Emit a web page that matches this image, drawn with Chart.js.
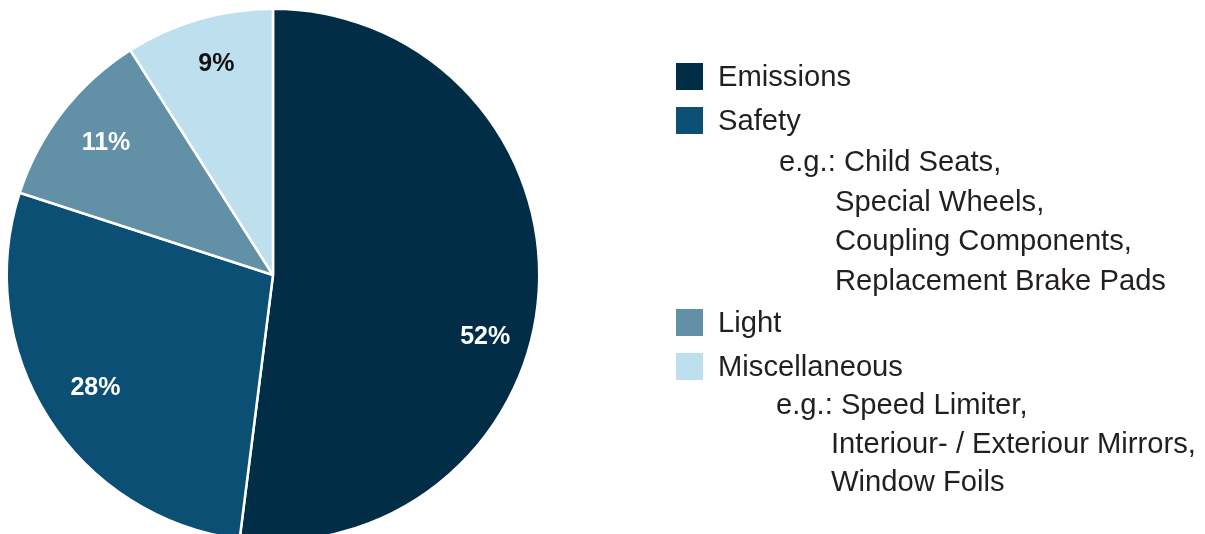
<!DOCTYPE html>
<html lang="en">
<head>
    <meta charset="UTF-8">
    <title>Share by Category</title>
    <script src="https://cdn.jsdelivr.net/npm/chart.js"></script>
    <style>
        body {
            margin: 0;
            background: #fff;
            font-family: 'Liberation Sans', Arial, Helvetica, sans-serif;
        }
        .wrap {
            position: relative;
            width: 1205px;
            height: 534px;
            overflow: hidden;
        }
        #pieChart {
            position: absolute;
            left: 0;
            top: 0;
        }
        .legend {
            position: absolute;
            left: 676px;
            top: 54px;
            color: #231f20;
            font-size: 29.2px;
        }
        .legend .item {
            display: flex;
            align-items: center;
            height: 44px;
        }
        .legend .swatch {
            width: 27px;
            height: 27px;
            margin-right: 15px;
        }
        .legend .sub {
            white-space: nowrap;
        }
    </style>
</head>
<body>
    <div class="wrap">
        <canvas id="pieChart" width="1205" height="545"></canvas>
        <div class="legend" id="legend"></div>
    </div>

    <script>
        const categories = ['Emissions', 'Safety', 'Light', 'Miscellaneous'];
        const shares = [52, 28, 11, 9];
        const colors = ['#022d47', '#0b4f74', '#6190a7', '#bddfee'];
        const labelColors = ['#ffffff', '#ffffff', '#ffffff', '#111111'];
        const examples = [
            [],
            ['e.g.: Child Seats,', 'Special Wheels,', 'Coupling Components,', 'Replacement Brake Pads'],
            [],
            ['e.g.: Speed Limiter,', 'Interiour- / Exteriour Mirrors,', 'Window Foils']
        ];

        // indent / line height of the example lines per category
        const subStyle = [
            null,
            { first: 103, rest: 159, line: 39.5, shiftTop: 0 },
            null,
            { first: 100, rest: 155, line: 38.5, shiftTop: -3 }
        ];

        // percentage text inside each slice
        const sliceLabels = {
            id: 'sliceLabels',
            afterDatasetsDraw(chart, args, opts) {
                const ctx = chart.ctx;
                const arcs = chart.getDatasetMeta(0).data;
                ctx.save();
                ctx.font = 'bold 25px "Liberation Sans", Arial, sans-serif';
                ctx.textAlign = 'center';
                ctx.textBaseline = 'middle';
                arcs.forEach((arc, i) => {
                    const p = arc.getProps(['x', 'y', 'startAngle', 'endAngle', 'outerRadius'], true);
                    const mid = (p.startAngle + p.endAngle) / 2 + opts.shift[i];
                    const r = p.outerRadius * opts.radius[i];
                    ctx.fillStyle = labelColors[i];
                    ctx.fillText(shares[i] + '%', p.x + Math.cos(mid) * r, p.y + Math.sin(mid) * r);
                });
                ctx.restore();
            }
        };

        new Chart(document.getElementById('pieChart'), {
            type: 'pie',
            data: {
                labels: categories,
                datasets: [{
                    data: shares,
                    backgroundColor: colors,
                    borderColor: '#ffffff',
                    borderWidth: 2.5
                }]
            },
            options: {
                responsive: false,
                animation: false,
                layout: {
                    padding: { left: 5.5, top: 7.5, right: 664.5, bottom: 2.5 }
                },
                plugins: {
                    legend: { display: false },
                    tooltip: { enabled: false },
                    sliceLabels: {
                        shift: [0.22, 0, 0.01, 0.02],
                        radius: [0.83, 0.79, 0.80, 0.82]
                    }
                }
            },
            plugins: [sliceLabels]
        });

        // legend with example lines under some categories
        const legend = document.getElementById('legend');
        categories.forEach((name, i) => {
            const row = document.createElement('div');
            row.className = 'item';
            const sw = document.createElement('span');
            sw.className = 'swatch';
            sw.style.background = colors[i];
            const txt = document.createElement('span');
            txt.textContent = name;
            row.appendChild(sw);
            row.appendChild(txt);
            legend.appendChild(row);
            const st = subStyle[i];
            examples[i].forEach((line, j) => {
                const sub = document.createElement('div');
                sub.className = 'sub';
                sub.style.paddingLeft = (j === 0 ? st.first : st.rest) + 'px';
                sub.style.height = st.line + 'px';
                sub.style.lineHeight = st.line + 'px';
                if (j === 0) sub.style.marginTop = st.shiftTop + 'px';
                sub.textContent = line;
                legend.appendChild(sub);
            });
        });
    </script>
</body>
</html>
